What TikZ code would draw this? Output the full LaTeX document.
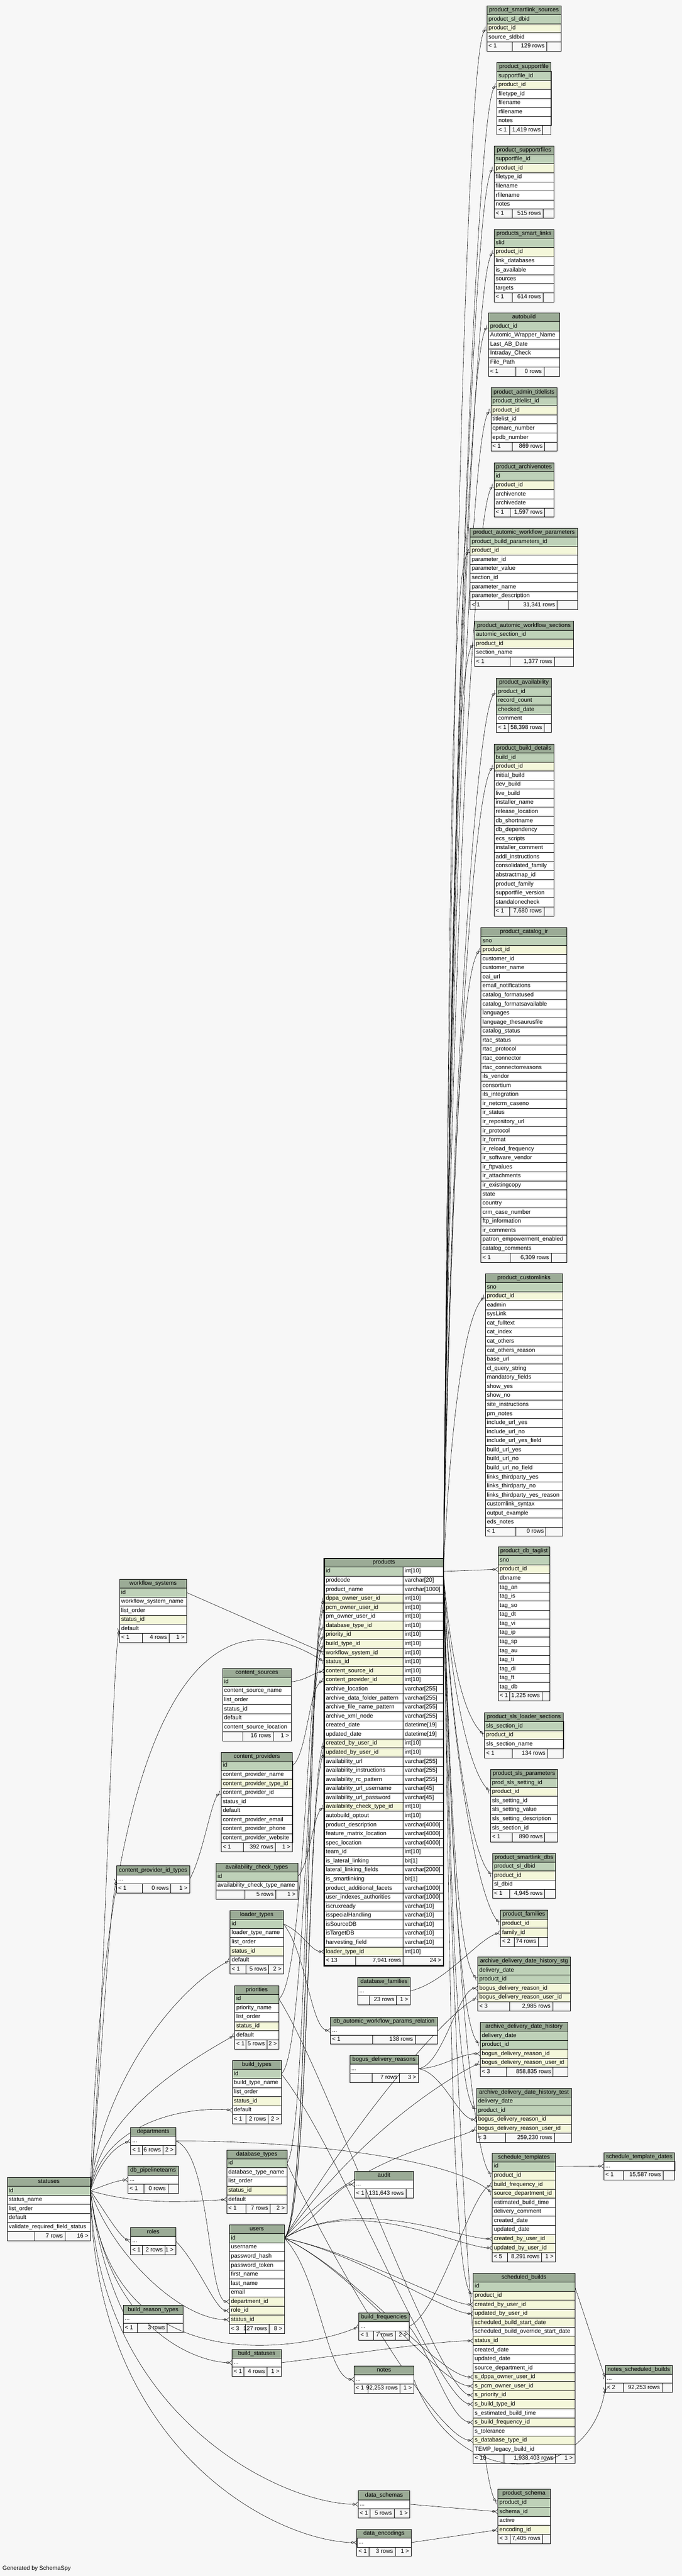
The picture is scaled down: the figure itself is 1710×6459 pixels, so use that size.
\documentclass[tikz,border=0pt]{standalone}
\usepackage{fontspec}
\setmainfont{Liberation Sans}
\usetikzlibrary{arrows.meta}
\definecolor{bgc}{HTML}{F7F7F7}
\definecolor{hdrc}{HTML}{9BAB96}
\definecolor{colp}{HTML}{BED1B8}
\definecolor{coli}{HTML}{F4F7DA}
\definecolor{coln}{HTML}{FFFFFF}
\pgfdeclarelayer{bg}
\pgfdeclarelayer{edges}
\pgfsetlayers{bg,edges,main}
\def\RH{22.7}
\newcommand\tdots{...}
\tikzset{
  ctext/.style={font=\fontsize{14.6}{16}\selectfont, inner sep=0pt, text height=10.5pt, text depth=3pt},
  cellbox/.style={draw=black, line width=0.8pt},
  fk/.style={line width=0.75pt, -{Circle[open,length=6pt,width=6pt]Straight Barb[reversed,length=7pt,width=11pt]}},
  tframe/.style={draw=black, line width=0.9pt, inner sep=0pt},
}
\def\dbfootA#1/#2/#3/#4/#5\relax{%
  \draw[line width=0.8pt] (\tL+#1,\yf) -- (\tL+#1,\yf+\RH);
  \draw[line width=0.8pt] (\tL+#2,\yf) -- (\tL+#2,\yf+\RH);
  \node[ctext,anchor=west] at (\tL+4,\yf+\RH/2) {#3};
  \node[ctext,anchor=east] at (\tL+#2-5,\yf+\RH/2) {#4};
  \node[ctext,anchor=east] at (\tR-5,\yf+\RH/2) {#5};
}
% \dbt{name}{cx}{top}{width}{header}{rows}{d1/d2/t1/t2/t3}
\newcommand\dbt[7]{%
  \pgfmathsetmacro\tL{#2-#4/2}%
  \pgfmathsetmacro\tR{#2+#4/2}%
  \path[fill=hdrc] (\tL,#3) rectangle (\tR,#3+\RH);
  \node[ctext] (#1-h) at (#2,#3+\RH/2) {#5};
  \foreach[count=\k] \ck/\cn in {#6}{%
    \pgfmathsetmacro\yy{#3+\k*\RH}%
    \path[fill=col\ck,cellbox] (\tL,\yy) rectangle (\tR,\yy+\RH);
    \node[ctext,anchor=west] (#1-\k) at (\tL+4,\yy+\RH/2) {\cn};
    \coordinate (#1-\k-w) at (\tL,\yy+\RH/2);
    \coordinate (#1-\k-e) at (\tR,\yy+\RH/2);
    \xdef\nrows{\k}%
  }%
  \pgfmathsetmacro\yf{#3+(\nrows+1)*\RH}%
  \coordinate (#1-f-w) at (\tL,\yf+\RH/2);
  \dbfootA#7\relax
  \pgfmathsetmacro\tH{(\nrows+2)*\RH}%
  \node[tframe,minimum width=#4pt,minimum height=\tH pt,anchor=north] (#1) at (#2,#3) {};
}
\newcommand\upe[3]{\draw[fk] (prod-1-e) .. controls (1128,{(#3+3942)/2}) and ({#2-55},{#3+50}) .. (#1);}
\newcommand\dne[3]{\draw[fk] (prod-1-e) .. controls (1128,{(#3+3942)/2}) and ({#2-55},{#3-50}) .. (#1);}
\begin{document}
\catcode`\_=12
\begin{tikzpicture}[x=1pt,y=-1pt]
\useasboundingbox (0,0) rectangle (1710,6459);
\begin{pgfonlayer}{bg}
\fill[bgc] (0,0) rectangle (1710,6459);
\end{pgfonlayer}

% ---------- right column ----------
\dbt{psls}{1314}{14}{186}{product_smartlink_sources}{p/product_sl_dbid,i/product_id,n/source_sldbid}{64/150/< 1/129 rows/}
\dbt{psf}{1314}{156}{136}{product_supportfile}{p/supportfile_id,i/product_id,n/filetype_id,n/filename,n/rfilename,n/notes}{32/115/< 1/1,419 rows/}
\dbt{psrf}{1314}{365}{150}{product_supportrfiles}{p/supportfile_id,i/product_id,n/filetype_id,n/filename,n/rfilename,n/notes}{46/123/< 1/515 rows/}
\dbt{pssl}{1314}{575}{150}{products_smart_links}{p/slid,i/product_id,n/link_databases,n/is_available,n/sources,n/targets}{46/123/< 1/614 rows/}
\dbt{ab}{1314}{784}{178}{autobuild}{p/product_id,n/Automic_Wrapper_Name,n/Last_AB_Date,n/Intraday_Check,n/File_Path}{69/139/< 1/0 rows/}
\dbt{pat}{1314}{972}{166}{product_admin_titlelists}{p/product_titlelist_id,i/product_id,n/titlelist_id,n/cpmarc_number,n/epdb_number}{54/135/< 1/869 rows/}
\dbt{pan}{1314}{1160}{150}{product_archivenotes}{p/id,i/product_id,n/archivenote,n/archivedate}{40/127/< 1/1,597 rows/}
\dbt{pawp}{1314}{1324}{270}{product_automic_workflow_parameters}{p/product_build_parameters_id,i/product_id,n/parameter_id,n/parameter_value,n/section_id,n/parameter_name,n/parameter_description}{95/218/< 1/31,341 rows/}
\dbt{paws}{1314}{1557}{248}{product_automic_workflow_sections}{p/automic_section_id,i/product_id,n/section_name}{89/200/< 1/1,377 rows/}
\dbt{pav}{1314}{1700}{138}{product_availability}{p/product_id,p/record_count,p/checked_date,n/comment}{29/120/< 1/58,398 rows/}
\dbt{pbd}{1314}{1865}{150}{product_build_details}{p/build_id,i/product_id,n/initial_build,n/dev_build,n/live_build,n/installer_name,n/release_location,n/db_shortname,n/db_dependency,n/ecs_scripts,n/installer_comment,n/addl_instructions,n/consolidated_family,n/abstractmap_id,n/product_family,n/supportfile_version,n/standalonecheck}{39/125/< 1/7,680 rows/}
\dbt{pci}{1314}{2325}{216}{product_catalog_ir}{p/sno,i/product_id,n/customer_id,n/customer_name,n/oai_url,n/email_notifications,n/catalog_formatused,n/catalog_formatsavailable,n/languages,n/language_thesaurusfile,n/catalog_status,n/rtac_status,n/rtac_protocol,n/rtac_connector,n/rtac_connectorreasons,n/ils_vendor,n/consortium,n/ils_integration,n/ir_netcrm_caseno,n/ir_status,n/ir_repository_url,n/ir_protocol,n/ir_format,n/ir_reload_frequency,n/ir_software_vendor,n/ir_ftpvalues,n/ir_attachments,n/ir_existingcopy,n/state,n/country,n/crm_case_number,n/ftp_information,n/ir_comments,n/patron_empowerment_enabled,n/catalog_comments}{73/176/< 1/6,309 rows/}
\dbt{pcl}{1314}{3193}{194}{product_customlinks}{p/sno,i/product_id,n/eadmin,n/sysLink,n/cat_fulltext,n/cat_index,n/cat_others,n/cat_others_reason,n/base_url,n/cl_query_string,n/mandatory_fields,n/show_yes,n/show_no,n/site_instructions,n/pm_notes,n/include_url_yes,n/include_url_no,n/include_url_yes_field,n/build_url_yes,n/build_url_no,n/build_url_no_field,n/links_thirdparty_yes,n/links_thirdparty_no,n/links_thirdparty_yes_reason,n/customlink_syntax,n/output_example,n/eds_notes}{77/152/< 1/0 rows/}
\dbt{pdt}{1314}{3878}{130}{product_db_taglist}{p/sno,i/product_id,n/dbname,n/tag_an,n/tag_is,n/tag_so,n/tag_dt,n/tag_vi,n/tag_ip,n/tag_sp,n/tag_au,n/tag_ti,n/tag_di,n/tag_ft,n/tag_db}{29/110/< 1/1,225 rows/}
\dbt{psls2}{1314}{4294}{198}{product_sls_loader_sections}{p/sls_section_id,i/product_id,n/sls_section_name}{70/158/< 1/134 rows/}
\dbt{psp}{1314}{4436}{168}{product_sls_parameters}{p/prod_sls_setting_id,i/product_id,n/sls_setting_id,n/sls_setting_value,n/sls_setting_description,n/sls_section_id}{55/136/< 1/890 rows/}
\dbt{psd}{1314}{4646}{158}{product_smartlink_dbs}{p/product_sl_dbid,i/product_id,n/sl_dbid}{43/131/< 1/4,945 rows/}
\dbt{pf}{1314}{4789}{118}{product_families}{i/product_id,i/family_id}{34/95/< 2/74 rows/}
\dbt{adhs}{1314}{4906}{232}{archive_delivery_date_history_stg}{p/delivery_date,p/product_id,i/bogus_delivery_reason_id,i/bogus_delivery_reason_user_id}{80/188/< 3/2,985 rows/}
\dbt{adh}{1314}{5070}{220}{archive_delivery_date_history}{p/delivery_date,p/product_id,i/bogus_delivery_reason_id,i/bogus_delivery_reason_user_id}{66/183/< 3/858,835 rows/}
\dbt{adht}{1314}{5235}{238}{archive_delivery_date_history_test}{p/delivery_date,p/product_id,i/bogus_delivery_reason_id,i/bogus_delivery_reason_user_id}{73/195/< 3/259,230 rows/}
\dbt{st}{1314}{5398}{159}{schedule_templates}{p/id,i/product_id,i/build_frequency_id,i/source_department_id,n/estimated_build_time,n/delivery_comment,n/created_date,n/updated_date,i/created_by_user_id,i/updated_by_user_id}{38/124/< 5/8,291 rows/1 >}
\dbt{sb}{1314}{5699}{255}{scheduled_builds}{p/id,i/product_id,i/created_by_user_id,i/updated_by_user_id,i/scheduled_build_start_date,n/scheduled_build_override_start_date,i/status_id,n/created_date,n/updated_date,n/source_department_id,i/s_dppa_owner_user_id,i/s_pcm_owner_user_id,i/s_priority_id,i/s_build_type_id,n/s_estimated_build_time,i/s_build_frequency_id,n/s_tolerance,i/s_database_type_id,n/TEMP_legacy_build_id}{77/207/< 10/1,938,403 rows/1 >}
\dbt{ps}{1314}{6241}{131}{product_schema}{p/product_id,p/schema_id,n/active,i/encoding_id}{31/112/< 3/7,405 rows/}
\dbt{std}{1603}{5397}{178}{schedule_template_dates}{n/\tdots}{49/149/< 1/15,587 rows/}
\dbt{nsb}{1602}{5930}{168}{notes_scheduled_builds}{n/\tdots}{45/142/< 2/92,253 rows/}

% ---------- products ----------
\path[fill=hdrc] (813,3906) rectangle (1112,3906+\RH);
\node[ctext] (prod-h) at (962.5,3906+\RH/2) {products};
\foreach[count=\k] \ck/\cn/\ct in {p/id/int[10],n/prodcode/varchar[20],n/product_name/varchar[1000],i/dppa_owner_user_id/int[10],i/pcm_owner_user_id/int[10],n/pm_owner_user_id/int[10],i/database_type_id/int[10],i/priority_id/int[10],i/build_type_id/int[10],i/workflow_system_id/int[10],i/status_id/int[10],i/content_source_id/int[10],i/content_provider_id/int[10],n/archive_location/varchar[255],n/archive_data_folder_pattern/varchar[255],n/archive_file_name_pattern/varchar[255],n/archive_xml_node/varchar[255],n/created_date/datetime[19],n/updated_date/datetime[19],i/created_by_user_id/int[10],i/updated_by_user_id/int[10],n/availability_url/varchar[255],n/availability_instructions/varchar[255],n/availability_rc_pattern/varchar[255],n/availability_url_username/varchar[45],n/availability_url_password/varchar[45],i/availability_check_type_id/int[10],n/autobuild_optout/int[10],n/product_description/varchar[4000],n/feature_matrix_location/varchar[4000],n/spec_location/varchar[4000],n/team_id/int[10],n/is_lateral_linking/bit[1],n/lateral_linking_fields/varchar[2000],n/is_smartlinking/bit[1],n/product_additional_facets/varchar[1000],n/user_indexes_authorities/varchar[1000],n/iscruxready/varchar[10],n/isspecialHandling/varchar[10],n/isSourceDB/varchar[10],n/isTargetDB/varchar[10],n/harvesting_field/varchar[10],i/loader_type_id/int[10]}{%
  \pgfmathsetmacro\yy{3906+\k*\RH}%
  \path[fill=col\ck,cellbox] (813,\yy) rectangle (1011,\yy+\RH);
  \path[fill=white,cellbox] (1011,\yy) rectangle (1112,\yy+\RH);
  \node[ctext,anchor=west] (prod-\k) at (817,\yy+\RH/2) {\cn};
  \node[ctext,anchor=west] (prodt-\k) at (1015,\yy+\RH/2) {\ct};
  \coordinate (prod-\k-w) at (813,\yy+\RH/2);
  \coordinate (prod-\k-e) at (1112,\yy+\RH/2);
}
\draw[line width=0.8pt] (892,3906+44*\RH) -- (892,3906+45*\RH);
\draw[line width=0.8pt] (1011,3906+44*\RH) -- (1011,3906+45*\RH);
\node[ctext,anchor=west] (prodf1) at (817,3906+44.5*\RH) {< 13};
\node[ctext,anchor=east] (prodf2) at (1006,3906+44.5*\RH) {7,941 rows};
\node[ctext,anchor=east] (prodf3) at (1107,3906+44.5*\RH) {24 >};
\node[draw=black,line width=3pt,inner sep=0pt,minimum width=299pt,minimum height=1021.5pt,anchor=north] (products) at (962.5,3906) {};

% ---------- left side ----------
\dbt{ws}{384}{3959}{168}{workflow_systems}{p/id,n/workflow_system_name,n/list_order,i/status_id,n/default}{57/124/< 1/4 rows/1 >}
\dbt{cs}{644}{4183}{172}{content_sources}{p/id,n/content_source_name,n/list_order,n/status_id,n/default,n/content_source_location}{51/127//16 rows/1 >}
\dbt{cp}{644}{4393}{179}{content_providers}{p/id,n/content_provider_name,i/content_provider_type_id,n/content_provider_id,n/status_id,n/default,n/content_provider_email,n/content_provider_phone,n/content_provider_website}{55/136/< 1/392 rows/1 >}
\dbt{cpit}{384}{4678}{183}{content_provider_id_types}{n/\tdots}{65/136/< 1/0 rows/1 >}
\dbt{act}{644}{4671}{205}{availability_check_types}{p/id,n/availability_check_type_name}{72/150//5 rows/1 >}
\dbt{lt}{644}{4790}{134}{loader_types}{p/id,n/loader_type_name,n/list_order,i/status_id,n/default}{40/97/< 1/5 rows/2 >}
\dbt{pr}{644}{4978}{111}{priorities}{p/id,n/priority_name,n/list_order,i/status_id,n/default}{28/81/< 1/5 rows/2 >}
\dbt{bt}{644}{5166}{123}{build_types}{p/id,n/build_type_name,n/list_order,i/status_id,n/default}{34/90/< 1/2 rows/2 >}
\dbt{dt}{644}{5390}{151}{database_types}{p/id,n/database_type_name,n/list_order,i/status_id,n/default}{48/109/< 1/7 rows/2 >}
\dbt{us}{644}{5578}{138}{users}{p/id,n/username,n/password_hash,n/password_token,n/first_name,n/last_name,n/email,i/department_id,i/role_id,i/status_id}{40/100/< 3/127 rows/8 >}
\dbt{bs}{644}{5890}{124}{build_statuses}{n/\tdots}{30/88/< 1/4 rows/1 >}
\dbt{dep}{384}{5334}{113}{departments}{n/\tdots}{29/81/< 1/6 rows/2 >}
\dbt{dbp}{384}{5431}{126}{db_pipelineteams}{n/\tdots}{40/100/< 1/0 rows/}
\dbt{rol}{384}{5585}{113}{roles}{n/\tdots}{29/86/< 1/2 rows/1 >}
\dbt{brt}{384}{5780}{150}{build_reason_types}{n/\tdots}{35/110/< 1/3 rows/}
\dbt{sts}{122.5}{5459}{209}{statuses}{p/id,n/status_name,n/list_order,n/default,n/validate_required_field_status}{69/145//7 rows/16 >}
\dbt{dbf}{963}{4958}{132}{database_families}{n/\tdots}{30/97//23 rows/1 >}
\dbt{dawpr}{963}{5057}{268}{db_automic_workflow_params_relation}{n/\tdots}{105/212/< 1/138 rows/}
\dbt{bdr}{963}{5153}{172}{bogus_delivery_reasons}{n/\tdots}{56/125//7 rows/3 >}
\dbt{aud}{963}{5443}{148}{audit}{n/\tdots}{29/129/< 1/131,643 rows/}
\dbt{bf}{963}{5799}{126}{build_frequencies}{n/\tdots}{37/91/< 1/7 rows/2 >}
\dbt{nt}{963}{5932}{150}{notes}{n/\tdots}{35/115/< 1/92,253 rows/1 >}
\dbt{dsch}{963}{6245}{130}{data_schemas}{n/\tdots}{30/90/< 1/5 rows/1 >}
\dbt{denc}{963}{6341}{136}{data_encodings}{n/\tdots}{30/96/< 1/3 rows/1 >}

\node[ctext,anchor=west] (gen) at (6,6440) {Generated by SchemaSpy};

% ---------- connectors ----------
\begin{pgfonlayer}{edges}
\upe{psls-2-w}{1221}{70.75}
\upe{psf-2-w}{1246}{212.75}
\upe{psrf-2-w}{1239}{421.75}
\upe{pssl-2-w}{1239}{631.75}
\upe{ab-1-w}{1225}{818}
\upe{pat-2-w}{1231}{1028.75}
\upe{pan-2-w}{1239}{1216.75}
\upe{pawp-2-w}{1179}{1380.75}
\upe{paws-2-w}{1190}{1613.75}
\upe{pav-1-w}{1245}{1734}
\upe{pbd-2-w}{1239}{1921.75}
\upe{pci-2-w}{1206}{2381.75}
\upe{pcl-2-w}{1217}{3249.75}
\draw[fk] (prod-1-e) -- (pdt-2-w);
\dne{psls2-2-w}{1215}{4350.75}
\dne{psp-2-w}{1230}{4492.75}
\dne{psd-2-w}{1235}{4702.75}
\dne{pf-1-w}{1255}{4823}
\dne{adhs-2-w}{1198}{4962.75}
\dne{adh-2-w}{1204}{5126.75}
\dne{adht-2-w}{1195}{5291.75}
\dne{st-2-w}{1234}{5454.75}
\dne{sb-2-w}{1186}{5755.75}
\dne{ps-1-w}{1248}{6275}

\draw[fk] (ws-1-e) -- (prod-10-w);
\draw[fk] (cs-1-e) .. controls (770,4212) and (785,4195) .. (prod-12-w);
\draw[fk] (cp-1-e) .. controls (770,4400) and (775,4230) .. (prod-13-w);
\draw[fk] (act-1-e) .. controls (775,4680) and (785,4550) .. (prod-27-w);
\draw[fk] (lt-1-e) .. controls (760,4845) and (780,4894) .. (prod-43-w);
\draw[fk] (pr-1-e) .. controls (765,4960) and (770,4160) .. (prod-8-w);
\draw[fk] (bt-1-e) .. controls (768,5150) and (772,4180) .. (prod-9-w);
\draw[fk] (dt-1-e) .. controls (772,5360) and (768,4130) .. (prod-7-w);
\draw[fk] (us-1-e) .. controls (776,5560) and (770,4108) .. (prod-4-w);
\draw[fk] (us-1-e) .. controls (776,5560) and (770,4131) .. (prod-5-w);
\draw[fk] (us-1-e) .. controls (776,5560) and (770,4472) .. (prod-20-w);
\draw[fk] (us-1-e) .. controls (776,5560) and (770,4495) .. (prod-21-w);
\draw[fk] (sts-1-e) .. controls (260,4250) and (520,3980) .. (prod-11-w);

\draw[fk] (sts-1-e) .. controls (255,5200) and (282,4150) .. (ws-5-w);
\draw[fk] (sts-1-e) .. controls (250,5250) and (272,4800) .. (cpit-1-w);
\draw[fk] (sts-1-e) .. controls (250,5250) and (420,5000) .. (lt-5-w);
\draw[fk] (sts-1-e) .. controls (250,5300) and (470,5170) .. (pr-5-w);
\draw[fk] (sts-1-e) .. controls (255,5330) and (450,5280) .. (bt-5-w);
\draw[fk] (sts-1-e) .. controls (250,5420) and (290,5380) .. (dep-1-w);
\draw[fk] (sts-1-e) .. controls (260,5480) and (290,5468) .. (dbp-1-w);
\draw[fk] (sts-1-e) .. controls (350,5530) and (480,5520) .. (dt-5-w);
\draw[fk] (sts-1-e) .. controls (260,5540) and (300,5610) .. (rol-1-w);
\draw[fk] (sts-1-e) .. controls (280,5650) and (450,5816) .. (us-10-w);
\draw[fk] (sts-1-e) .. controls (250,5700) and (320,5814) .. (brt-1-w);
\draw[fk] (sts-1-e) .. controls (270,5850) and (500,5924) .. (bs-1-w);
\draw[fk] (sts-1-e) .. controls (280,6000) and (800,5880) .. (bf-1-w);
\draw[fk] (sts-1-e) .. controls (240,6050) and (700,6279) .. (dsch-1-w);
\draw[fk] (sts-1-e) .. controls (235,6150) and (700,6375) .. (denc-1-w);

\draw[fk] (rol-1-e) .. controls (500,5680) and (540,5794) .. (us-9-w);
\draw[fk] (dep-1-e) .. controls (530,5400) and (520,5771) .. (us-8-w);
\draw[fk] (dep-1-e) .. controls (800,5368) and (1150,5420) .. (st-4-w);
\draw[fk] (us-1-e) .. controls (800,5560) and (850,5477) .. (aud-1-w);
\draw[fk] (us-1-e) .. controls (800,5700) and (820,5966) .. (nt-1-w);
\draw[fk] (us-1-e) .. controls (900,5500) and (1150,5614) .. (st-9-w);
\draw[fk] (us-1-e) .. controls (900,5500) and (1150,5636) .. (st-10-w);
\draw[fk] (us-1-e) .. controls (900,5650) and (1120,5778) .. (sb-3-w);
\draw[fk] (us-1-e) .. controls (900,5650) and (1120,5801) .. (sb-4-w);
\draw[fk] (us-1-e) .. controls (900,5700) and (1100,5960) .. (sb-11-w);
\draw[fk] (us-1-e) .. controls (900,5700) and (1100,5982) .. (sb-12-w);
\draw[fk] (us-1-e) .. controls (900,5300) and (1120,5048) .. (adhs-4-w);
\draw[fk] (us-1-e) .. controls (900,5350) and (1120,5212) .. (adh-4-w);
\draw[fk] (us-1-e) .. controls (900,5400) and (1120,5377) .. (adht-4-w);

\draw[fk] (pr-1-e) .. controls (820,5200) and (1100,6005) .. (sb-13-w);
\draw[fk] (bt-1-e) .. controls (850,5380) and (1100,6028) .. (sb-14-w);
\draw[fk] (dt-1-e) .. controls (850,5700) and (1100,6118) .. (sb-18-w);
\draw[fk] (bs-1-e) .. controls (900,5900) and (1100,5869) .. (sb-7-w);
\draw[fk] (bf-1-e) .. controls (1100,5800) and (1180,5500) .. (st-3-w);
\draw[fk] (bf-1-e) .. controls (1080,5900) and (1130,6073) .. (sb-16-w);

\draw[fk] (bdr-1-e) .. controls (1110,5180) and (1150,4985) .. (adhs-3-w);
\draw[fk] (bdr-1-e) .. controls (1110,5185) and (1150,5149) .. (adh-3-w);
\draw[fk] (bdr-1-e) .. controls (1110,5195) and (1150,5314) .. (adht-3-w);

\draw[fk] (cpit-1-e) .. controls (510,4650) and (530,4510) .. (cp-4-w);
\draw[fk] (lt-1-e) .. controls (770,4900) and (780,5091) .. (dawpr-1-w);
\draw[fk] (dbf-1-e) .. controls (1120,4970) and (1200,4860) .. (pf-2-w);
\draw[fk] (st-1-e) -- (std-1-w);
\draw[fk] (sb-1-e) -- (nsb-1-w);
\draw[fk] (nt-1-e) .. controls (1150,6260) and (1480,6230) .. (nsb-f-w);
\draw[fk] (dsch-1-e) -- (ps-2-w);
\draw[fk] (denc-1-e) -- (ps-4-w);
\end{pgfonlayer}
\end{tikzpicture}
\end{document}
